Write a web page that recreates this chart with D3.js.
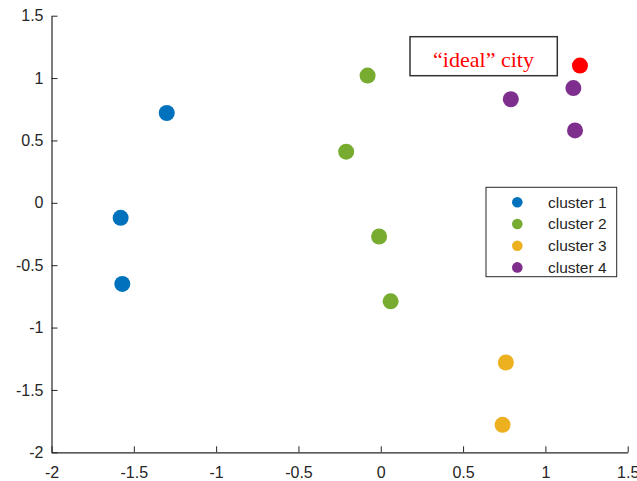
<!DOCTYPE html>
<html>
<head>
<meta charset="utf-8">
<script src="https://cdn.jsdelivr.net/npm/d3@7/dist/d3.min.js"></script>
<style>
  html, body { margin: 0; padding: 0; background: #fff; }
  svg { display: block; }
</style>
</head>
<body>
<svg id="chart" width="637" height="481"></svg>
<script>
// Cluster membership of each city on the two principal components
const clusterNames = ["cluster 1", "cluster 2", "cluster 3", "cluster 4"];
const clusterColors = ["#0072BD", "#77AC30", "#EDB120", "#7E2F8E"];
const cluster1 = [[-1.30, 0.72], [-1.58, -0.12], [-1.57, -0.65]];
const cluster2 = [[-0.08, 1.02], [-0.21, 0.41], [-0.01, -0.27], [0.06, -0.79]];
const cluster3 = [[0.76, -1.28], [0.74, -1.78]];
const cluster4 = [[0.79, 0.83], [1.17, 0.92], [1.18, 0.58]];
const idealCity = [1.21, 1.10];
const idealLabel = "\u201Cideal\u201D city";
const xTicks = [-2, -1.5, -1, -0.5, 0, 0.5, 1, 1.5];
const yTicks = [-2, -1.5, -1, -0.5, 0, 0.5, 1, 1.5];

const svg = d3.select("#chart");
const plotLeft = 51.5, plotRight = 627.7, plotTop = 15.7, plotBottom = 452.3;
const x = d3.scaleLinear().domain([-2, 1.5]).range([plotLeft, plotRight]);
const y = d3.scaleLinear().domain([-2, 1.5]).range([plotBottom, plotTop]);
const axisColor = "#262626";
const fmt = d => String(d);

// Left and bottom axes with inward ticks
const gx = svg.append("g").attr("transform", `translate(0,${plotBottom})`)
  .call(d3.axisBottom(x).tickValues(xTicks).tickSize(-6).tickSizeOuter(0).tickPadding(14).tickFormat(fmt));
const gy = svg.append("g").attr("transform", `translate(${plotLeft},0)`)
  .call(d3.axisLeft(y).tickValues(yTicks).tickSize(-6).tickSizeOuter(0).tickPadding(8).tickFormat(fmt));
[gx, gy].forEach(g => {
  g.select(".domain").attr("stroke", axisColor).attr("stroke-width", 1.2);
  g.selectAll(".tick line").attr("stroke", axisColor).attr("stroke-width", 1);
  g.selectAll(".tick text").attr("fill", axisColor)
    .style("font-family", "'Liberation Sans', Arial, Helvetica, sans-serif")
    .style("font-size", "16px");
});
gx.selectAll(".tick text").attr("dy", "0.71em");

// Scatter points for each cluster
const clusters = [cluster1, cluster2, cluster3, cluster4];
clusters.forEach((pts, i) => {
  svg.append("g").selectAll("circle").data(pts).join("circle")
    .attr("cx", d => x(d[0])).attr("cy", d => y(d[1]))
    .attr("r", 8).attr("fill", clusterColors[i]);
});

// The ideal city point
svg.append("circle").attr("cx", x(idealCity[0])).attr("cy", y(idealCity[1]))
  .attr("r", 8).attr("fill", "#FF0000");

// Annotation box
const ann = svg.append("g");
ann.append("rect").attr("x", 410).attr("y", 36.7).attr("width", 147.3).attr("height", 39)
  .attr("fill", "#fff").attr("stroke", "#333").attr("stroke-width", 1.5);
ann.append("text").attr("x", 483.5).attr("y", 66.5).attr("text-anchor", "middle")
  .attr("fill", "#FF0000")
  .style("font-family", "'Liberation Serif', 'Times New Roman', serif")
  .style("font-size", "22px")
  .text(idealLabel);

// Legend
const lg = svg.append("g");
lg.append("rect").attr("x", 486).attr("y", 187.3).attr("width", 130.7).attr("height", 89.4)
  .attr("fill", "#fff").attr("stroke", "#262626").attr("stroke-width", 1);
clusterNames.forEach((name, i) => {
  const cy = 202.3 + i * 21.7;
  lg.append("circle").attr("cx", 517.3).attr("cy", cy).attr("r", 5.3).attr("fill", clusterColors[i]);
  lg.append("text").attr("x", 548).attr("y", cy).attr("dy", "0.35em")
    .attr("fill", axisColor)
    .style("font-family", "'Liberation Sans', Arial, Helvetica, sans-serif")
    .style("font-size", "15.5px")
    .text(name);
});
</script>
</body>
</html>
